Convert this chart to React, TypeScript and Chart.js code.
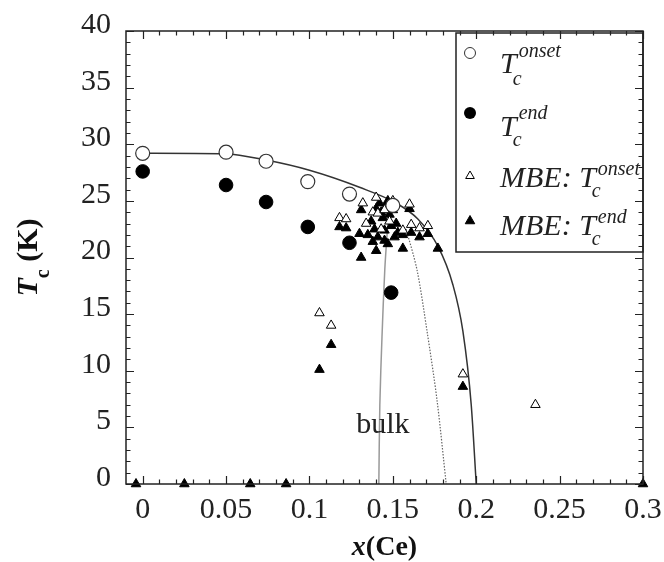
import React, { useEffect, useRef } from 'react';
import { Chart, registerables } from 'chart.js';

Chart.register(...registerables);

// ---- data ----
const bulkOnsetX = [0, 0.05, 0.074, 0.099, 0.124, 0.15];
const bulkOnsetT = [29.2, 29.3, 28.5, 26.7, 25.6, 24.6];

const bulkEndX = [0, 0.05, 0.074, 0.099, 0.124, 0.149];
const bulkEndT = [27.6, 26.4, 24.9, 22.7, 21.3, 16.9];

const mbeOnsetX = [0.106, 0.113, 0.192, 0.2355, 0.118, 0.122, 0.132, 0.138, 0.141, 0.140, 0.160, 0.156, 0.161, 0.166, 0.171, 0.134, 0.145, 0.148, 0.143, 0.150];
const mbeOnsetT = [15.1, 14.0, 9.7, 7.0, 23.5, 23.4, 24.8, 24.0, 23.9, 25.3, 24.7, 22.4, 22.9, 22.6, 22.8, 23.0, 24.2, 23.2, 22.5, 25.0];

const mbeEndX = [-0.004, 0.025, 0.0645, 0.086, 0.3, 0.106, 0.113, 0.192, 0.118, 0.122, 0.131, 0.160, 0.156, 0.161, 0.166, 0.171, 0.177, 0.131, 0.140, 0.156, 0.130, 0.145, 0.135, 0.137, 0.139, 0.141, 0.142, 0.144, 0.145, 0.146, 0.147, 0.148, 0.149, 0.150, 0.151, 0.152, 0.153, 0.140, 0.138, 0.143, 0.147];
const mbeEndT = [0, 0, 0, 0, 0, 10.1, 12.3, 8.6, 22.7, 22.6, 24.2, 24.3, 22.0, 22.2, 21.8, 22.1, 20.8, 20.0, 20.6, 20.8, 22.1, 21.5, 22.0, 23.2, 22.5, 21.8, 24.8, 23.5, 22.4, 24.5, 21.2, 23.8, 22.8, 24.2, 21.8, 23.0, 22.2, 24.3, 21.4, 24.0, 25.0];

// fitted curves
const fitX = [0, 0.05, 0.074, 0.1, 0.13, 0.152, 0.165, 0.177, 0.186, 0.192, 0.197, 0.2];
const fitT = [29.2, 29.15, 28.6, 27.7, 26.2, 24.8, 23.4, 21.0, 17.6, 13.5, 7.0, 0];

const bulkFit1X = [0.147, 0.1452, 0.1435, 0.1422, 0.1416];
const bulkFit1T = [23.0, 19.0, 13.0, 7.0, 0];

const bulkFit2X = [0.158, 0.1645, 0.1705, 0.1765, 0.182];
const bulkFit2T = [22.5, 18.9, 13.5, 7.4, 0];

const xTickValues = [0, 0.05, 0.1, 0.15, 0.2, 0.25, 0.3];
const xTickLabels = ['0', '0.05', '0.1', '0.15', '0.2', '0.25', '0.3'];
const yTickValues = [0, 5, 10, 15, 20, 25, 30, 35, 40];
const yTickLabels = ['0', '5', '10', '15', '20', '25', '30', '35', '40'];

const bulkLabel = 'bulk';
const bulkLabelAt = { x: 0.144, y: 4.5 };

const SERIF = '"Liberation Serif", "Times New Roman", serif';

const pts = (xs: number[], ys: number[]) => xs.map((x, i) => ({ x, y: ys[i] }));

function drawTriangle(ctx: CanvasRenderingContext2D, x: number, y: number, r: number, fill: boolean) {
  ctx.beginPath();
  for (let k = 0; k < 3; k++) {
    const a = (k * 2 * Math.PI) / 3;
    const px = x + Math.sin(a) * r;
    const py = y - Math.cos(a) * r;
    if (k === 0) ctx.moveTo(px, py);
    else ctx.lineTo(px, py);
  }
  ctx.closePath();
  ctx.fillStyle = fill ? '#000' : '#fff';
  ctx.fill();
  ctx.strokeStyle = '#000';
  ctx.lineWidth = 1;
  ctx.stroke();
}

const decorPlugin = {
  id: 'decor',
  afterDatasetsDraw(chart: any) {
    const { ctx, chartArea: ca, scales } = chart;
    const xs = scales.x;
    const ys = scales.y;
    ctx.save();
    ctx.strokeStyle = '#222';
    ctx.lineWidth = 1.5;
    ctx.strokeRect(ca.left, ca.top, ca.right - ca.left, ca.bottom - ca.top);
    ctx.lineWidth = 1.2;
    ctx.beginPath();
    for (let i = 0; i <= 30; i++) {
      const px = Math.round(xs.getPixelForValue(i / 100)) + 0.5;
      const len = i % 5 === 0 ? 8 : 4.5;
      ctx.moveTo(px, ca.bottom);
      ctx.lineTo(px, ca.bottom - len);
      ctx.moveTo(px, ca.top);
      ctx.lineTo(px, ca.top + len);
    }
    for (let i = 0; i <= 40; i++) {
      const py = Math.round(ys.getPixelForValue(i)) + 0.5;
      const len = i % 5 === 0 ? 8 : 4.5;
      ctx.moveTo(ca.left, py);
      ctx.lineTo(ca.left + len, py);
      ctx.moveTo(ca.right, py);
      ctx.lineTo(ca.right - len, py);
    }
    ctx.stroke();

    // "bulk" annotation
    ctx.fillStyle = '#222';
    ctx.font = `30px ${SERIF}`;
    ctx.textAlign = 'center';
    ctx.textBaseline = 'alphabetic';
    ctx.fillText(bulkLabel, xs.getPixelForValue(bulkLabelAt.x), ys.getPixelForValue(bulkLabelAt.y));
    ctx.restore();
  },
  afterDraw(chart: any) {
    const { ctx, chartArea: ca } = chart;
    ctx.save();
    ctx.fillStyle = '#111';
    ctx.textBaseline = 'alphabetic';
    ctx.textAlign = 'left';

    // x-axis title: x(Ce)
    const cx = (ca.left + ca.right) / 2;
    ctx.font = `bold italic 28px ${SERIF}`;
    const wx = ctx.measureText('x').width;
    ctx.font = `bold 28px ${SERIF}`;
    const wce = ctx.measureText('(Ce)').width;
    const x0 = cx - (wx + wce) / 2;
    ctx.font = `bold italic 28px ${SERIF}`;
    ctx.fillText('x', x0, 555);
    ctx.font = `bold 28px ${SERIF}`;
    ctx.fillText('(Ce)', x0 + wx, 555);

    // y-axis title: T_c (K)
    ctx.save();
    ctx.translate(37, (ca.top + ca.bottom) / 2);
    ctx.rotate(-Math.PI / 2);
    ctx.font = `bold italic 30px ${SERIF}`;
    const wT = ctx.measureText('T').width;
    ctx.font = `bold 20px ${SERIF}`;
    const wc = ctx.measureText('c').width;
    ctx.font = `bold 30px ${SERIF}`;
    const wK = ctx.measureText(' (K)').width;
    const tot = wT + wc + wK;
    let sx = -tot / 2;
    ctx.font = `bold italic 30px ${SERIF}`;
    ctx.fillText('T', sx, 0);
    sx += wT;
    ctx.font = `bold 20px ${SERIF}`;
    ctx.fillText('c', sx, 12);
    sx += wc;
    ctx.font = `bold 30px ${SERIF}`;
    ctx.fillText(' (K)', sx, 0);
    ctx.restore();

    // legend box
    const L = ca.right - 187;
    const Tp = ca.top + 2;
    const B = ca.top + 221;
    ctx.strokeStyle = '#222';
    ctx.lineWidth = 1.5;
    ctx.strokeRect(L, Tp, ca.right - L, B - Tp);

    const mx = L + 14;
    // open circle
    ctx.beginPath();
    ctx.arc(mx, Tp + 20, 5.5, 0, Math.PI * 2);
    ctx.fillStyle = '#fff';
    ctx.fill();
    ctx.strokeStyle = '#333';
    ctx.lineWidth = 1;
    ctx.stroke();
    // filled circle
    ctx.beginPath();
    ctx.arc(mx, Tp + 80, 6, 0, Math.PI * 2);
    ctx.fillStyle = '#000';
    ctx.fill();
    drawTriangle(ctx, mx, Tp + 143, 5, false);
    drawTriangle(ctx, mx, Tp + 188, 5.5, true);

    const entries = [
      { main: 'T', sup: 'onset', base: Tp + 40, supBase: Tp + 24, subBase: Tp + 52 },
      { main: 'T', sup: 'end', base: Tp + 103, supBase: Tp + 86, subBase: Tp + 113 },
      { main: 'MBE: T', sup: 'onset', base: Tp + 154, supBase: Tp + 142, subBase: Tp + 164 },
      { main: 'MBE: T', sup: 'end', base: Tp + 202, supBase: Tp + 190, subBase: Tp + 212 },
    ];
    const tx = L + 44;
    ctx.fillStyle = '#222';
    for (const e of entries) {
      ctx.font = `italic 30px ${SERIF}`;
      ctx.fillText(e.main, tx, e.base);
      const w = ctx.measureText(e.main).width;
      ctx.font = `italic 20px ${SERIF}`;
      ctx.fillText(e.sup, tx + w + 2, e.supBase);
      ctx.fillText('c', tx + w - 4, e.subBase);
    }
    ctx.restore();
  },
};

export default function App() {
  const ref = useRef<HTMLCanvasElement | null>(null);

  useEffect(() => {
    if (!ref.current) return;
    const chart = new Chart(ref.current, {
      type: 'scatter',
      data: {
        datasets: [
          {
            label: 'Tc onset',
            data: pts(bulkOnsetX, bulkOnsetT),
            pointStyle: 'circle',
            pointRadius: 7,
            backgroundColor: '#fff',
            borderColor: '#333',
            borderWidth: 1.2,
            clip: false as any,
          },
          {
            label: 'Tc end',
            data: pts(bulkEndX, bulkEndT),
            pointStyle: 'circle',
            pointRadius: 6.8,
            backgroundColor: '#000',
            borderColor: '#000',
            borderWidth: 1,
            clip: false as any,
          },
          {
            label: 'MBE: Tc onset',
            data: pts(mbeOnsetX, mbeOnsetT),
            pointStyle: 'triangle',
            pointRadius: 5.5,
            backgroundColor: '#fff',
            borderColor: '#000',
            borderWidth: 1,
            clip: false as any,
          },
          {
            label: 'MBE: Tc end',
            data: pts(mbeEndX, mbeEndT),
            pointStyle: 'triangle',
            pointRadius: 5.5,
            backgroundColor: '#000',
            borderColor: '#000',
            borderWidth: 1,
            clip: false as any,
          },
          {
            label: 'fit',
            data: pts(fitX, fitT),
            showLine: true,
            pointRadius: 0,
            borderColor: '#333',
            borderWidth: 1.5,
            cubicInterpolationMode: 'monotone',
          } as any,
          {
            label: 'bulk fit 1',
            data: pts(bulkFit1X, bulkFit1T),
            showLine: true,
            pointRadius: 0,
            borderColor: '#999',
            borderWidth: 1.5,
            tension: 0.3,
          } as any,
          {
            label: 'bulk fit 2',
            data: pts(bulkFit2X, bulkFit2T),
            showLine: true,
            pointRadius: 0,
            borderColor: '#666',
            borderWidth: 1.2,
            borderDash: [1.5, 1.5],
            tension: 0.3,
          } as any,
        ],
      },
      options: {
        animation: false,
        responsive: false,
        devicePixelRatio: 1,
        layout: { padding: { top: 31, right: 21, left: 0, bottom: 0 } },
        plugins: { legend: { display: false }, tooltip: { enabled: false } },
        scales: {
          x: {
            type: 'linear',
            min: -0.01,
            max: 0.3,
            grid: { display: false, drawTicks: false },
            border: { display: false },
            afterBuildTicks: (scale: any) => {
              scale.ticks = xTickValues.map((v) => ({ value: v }));
            },
            afterFit: (scale: any) => {
              scale.height = 78;
              scale.paddingLeft = 0;
              scale.paddingRight = 0;
            },
            ticks: {
              autoSkip: false,
              maxRotation: 0,
              padding: 8,
              color: '#222',
              font: { family: SERIF, size: 30 },
              callback: (v: any) => {
                const i = xTickValues.findIndex((t) => Math.abs(t - Number(v)) < 1e-9);
                return i >= 0 ? xTickLabels[i] : '';
              },
            },
          },
          y: {
            type: 'linear',
            min: 0,
            max: 40,
            grid: { display: false, drawTicks: false },
            border: { display: false },
            afterBuildTicks: (scale: any) => {
              scale.ticks = yTickValues.map((v) => ({ value: v }));
            },
            afterFit: (scale: any) => {
              scale.width = 126;
              scale.paddingTop = 0;
              scale.paddingBottom = 0;
            },
            ticks: {
              autoSkip: false,
              padding: 15,
              labelOffset: -6,
              color: '#222',
              font: { family: SERIF, size: 30 },
              callback: (v: any) => {
                const i = yTickValues.findIndex((t) => Math.abs(t - Number(v)) < 1e-9);
                return i >= 0 ? yTickLabels[i] : '';
              },
            },
          },
        },
      },
      plugins: [decorPlugin],
    } as any);
    return () => chart.destroy();
  }, []);

  return (
    <div style={{ position: 'absolute', left: 0, top: 0, width: 664, height: 562, background: '#fff' }}>
      <canvas ref={ref} width={664} height={562} style={{ width: 664, height: 562, display: 'block' }} />
    </div>
  );
}
